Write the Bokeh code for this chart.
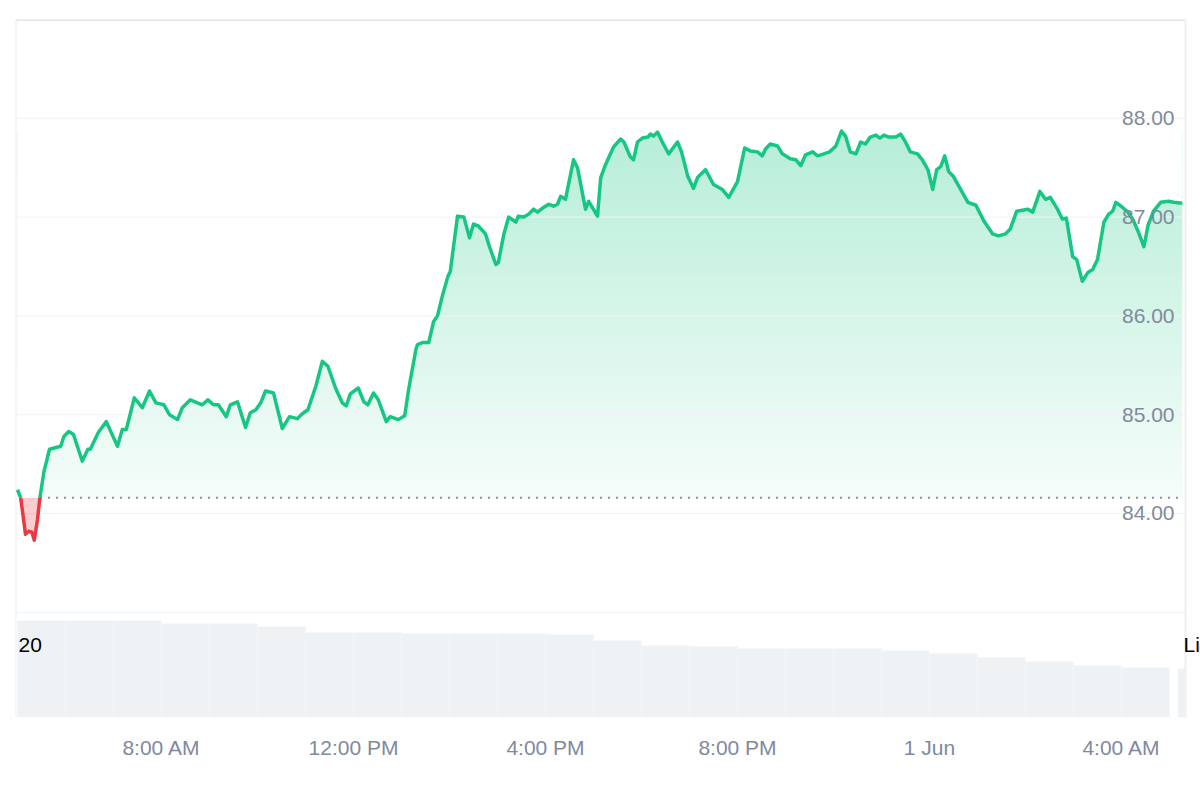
import numpy as np
from bokeh.plotting import figure
from bokeh.models import Range1d, FixedTicker, Label
from bokeh.core.properties import value
from bokeh.embed import file_html
from bokeh.resources import INLINE

# minutes after 05:00, 31 May
minutes = [0, 4, 10, 14, 18, 21, 25, 28, 33, 40, 54, 58, 64, 70, 81, 88, 91, 101, 111, 125,
           131, 136, 146, 156, 165, 173, 183, 190, 200, 206, 216, 231, 238, 245, 251, 261, 266, 275, 285, 291,
           298, 304, 310, 320, 331, 340, 350, 356, 363, 373, 381, 388, 398, 406, 411, 416, 426, 433, 438, 445,
           451, 461, 466, 476, 484, 489, 498, 500, 506, 514, 520, 525, 531, 538, 541, 550, 558, 565, 570, 576,
           585, 590, 598, 601, 608, 614, 623, 626, 633, 639, 645, 650, 658, 664, 670, 675, 679, 685, 695, 700,
           710, 714, 725, 729, 735, 745, 754, 758, 766, 770, 775, 781, 788, 791, 795, 800, 806, 814, 825, 830,
           838, 845, 850, 860, 870, 881, 889, 900, 909, 916, 925, 931, 935, 941, 950, 956, 966, 973, 979, 985,
           994, 1000, 1008, 1015, 1023, 1030, 1035, 1041, 1048, 1054, 1060, 1066, 1073, 1078, 1083, 1089, 1098, 1104, 1110, 1116,
           1125, 1131, 1138, 1144, 1149, 1154, 1159, 1164, 1170, 1181, 1188, 1198, 1208, 1219, 1226, 1235, 1241, 1249, 1263, 1269,
           1278, 1285, 1291, 1300, 1306, 1311, 1319, 1324, 1331, 1338, 1344, 1350, 1358, 1364, 1369, 1373, 1381, 1388, 1394, 1401,
           1408, 1413, 1420, 1429, 1439, 1445, 1456]
prices = [84.24, 84.16, 83.79, 83.82, 83.81, 83.73, 83.94, 84.16, 84.42, 84.65, 84.68, 84.78, 84.83, 84.80, 84.53, 84.65, 84.65, 84.82, 84.93, 84.68,
          84.85, 84.85, 85.17, 85.07, 85.24, 85.12, 85.10, 85.00, 84.95, 85.07, 85.15, 85.10, 85.15, 85.10, 85.10, 84.98, 85.10, 85.13, 84.87, 85.02,
          85.05, 85.12, 85.24, 85.22, 84.86, 84.98, 84.96, 85.01, 85.05, 85.29, 85.54, 85.49, 85.26, 85.12, 85.09, 85.21, 85.27, 85.13, 85.10, 85.22,
          85.15, 84.93, 84.98, 84.95, 84.99, 85.26, 85.66, 85.71, 85.73, 85.73, 85.94, 86.00, 86.20, 86.40, 86.45, 87.01, 87.00, 86.79, 86.93, 86.91,
          86.83, 86.70, 86.52, 86.54, 86.83, 87.00, 86.95, 87.01, 87.00, 87.03, 87.08, 87.05, 87.10, 87.13, 87.11, 87.13, 87.21, 87.18, 87.58, 87.50,
          87.08, 87.16, 87.01, 87.40, 87.53, 87.71, 87.79, 87.76, 87.61, 87.58, 87.76, 87.80, 87.81, 87.84, 87.82, 87.86, 87.76, 87.64, 87.76, 87.66,
          87.41, 87.29, 87.40, 87.48, 87.33, 87.28, 87.20, 87.36, 87.70, 87.67, 87.66, 87.62, 87.69, 87.74, 87.72, 87.64, 87.59, 87.58, 87.52, 87.63,
          87.66, 87.62, 87.64, 87.66, 87.72, 87.87, 87.82, 87.66, 87.64, 87.76, 87.74, 87.81, 87.83, 87.80, 87.83, 87.81, 87.81, 87.84, 87.76, 87.66,
          87.64, 87.58, 87.48, 87.28, 87.48, 87.51, 87.62, 87.46, 87.41, 87.25, 87.15, 87.12, 86.96, 86.83, 86.81, 86.83, 86.88, 87.06, 87.08, 87.05,
          87.26, 87.18, 87.20, 87.08, 86.98, 86.99, 86.60, 86.57, 86.35, 86.44, 86.47, 86.57, 86.95, 87.03, 87.06, 87.15, 87.10, 87.05, 86.98, 86.85,
          86.70, 86.91, 87.06, 87.15, 87.16, 87.15, 87.14]
reference_price = 84.16

# volume bars (bar centre in minutes after 05:00) - relative volume
vol_minutes = [30, 90, 150, 210, 270, 330, 390, 450, 510, 570, 630, 690, 750, 810, 870, 930,
               990, 1050, 1110, 1170, 1230, 1290, 1350, 1410, 1455]
volumes = [97, 97, 97, 94, 94, 91, 85, 85, 84, 84, 84, 83, 77, 72, 71, 69,
           69, 69, 67, 64, 60, 56, 52, 50, 49]

price_ticks = [84, 85, 86, 87, 88]
grid_levels = [83, 84, 85, 86, 87, 88]
time_ticks = [180, 420, 660, 900, 1140, 1380]
time_labels = ["8:00 AM", "12:00 PM", "4:00 PM", "8:00 PM", "1 Jun", "4:00 AM"]

GREEN = "#16c784"
RED = "#ea3943"
GREY_TXT = "#808a9d"
FONT = "Liberation Sans"
BORDER = "#eef0f3"

X0, X1 = -2.5, 1460          # chart panel edges (minutes)
XF = X1 + 15 / 0.8           # frame extends 15px beyond the panel for the cut-off text
Y0, Y1 = 81.935, 89.0
VOL_SPAN = 698

p = figure(width=1200, height=780, output_backend="svg", toolbar_location=None,
           x_range=Range1d(X0, XF), y_range=Range1d(Y0, Y1), y_axis_location=None,
           min_border_left=15, min_border_right=0, min_border_top=19, min_border_bottom=63,
           background_fill_color="white", border_fill_color="white")
p.xgrid.visible = False
p.ygrid.visible = False
p.outline_line_color = None

# volume on its own range
p.extra_y_ranges = {"vol": Range1d(0, VOL_SPAN)}
vol_widths = [60] * (len(vol_minutes) - 1) + [9]
p.vbar(x=vol_minutes, top=volumes, width=vol_widths, bottom=0, y_range_name="vol",
       fill_color="#eff2f5", line_color=None)

base = reference_price
xs, ys = [], []
for i in range(len(minutes)):
    if i > 0:
        p0, p1 = prices[i - 1], prices[i]
        if (p0 - base) * (p1 - base) < 0:
            f = (base - p0) / (p1 - p0)
            xs.append(minutes[i - 1] + f * (minutes[i] - minutes[i - 1]))
            ys.append(base)
    xs.append(minutes[i])
    ys.append(prices[i])
xs = np.array(xs, dtype=float)
ys = np.array(ys, dtype=float)

# gradient fill (image) masked above the line
top = max(prices)
n = 256
a = np.linspace(0.04, 0.31, n)
img = np.zeros((n, 2), dtype=np.uint32)
view = img.view(dtype=np.uint8).reshape((n, 2, 4))
for j in range(2):
    view[:, j, 0] = np.round(255 - a * (255 - 22)).astype(np.uint8)
    view[:, j, 1] = np.round(255 - a * (255 - 199)).astype(np.uint8)
    view[:, j, 2] = np.round(255 - a * (255 - 132)).astype(np.uint8)
    view[:, j, 3] = 255
p.image_rgba(image=[img], x=xs[0], y=base, dw=xs[-1] - xs[0], dh=top - base)
p.varea(x=xs, y1=np.maximum(ys, base), y2=Y1, fill_color="white")

# grid lines and panel borders
p.segment(x0=X0, x1=X1, y0=grid_levels, y1=grid_levels, line_color="#eff2f5", line_width=1)
p.segment(x0=[X0], x1=[X1], y0=[Y1], y1=[Y1], line_color="#e2e4e8", line_width=3)
p.segment(x0=[X0, X1], x1=[X0, X1], y0=[Y0, Y0], y1=[Y1, Y1], line_color=BORDER, line_width=2)

# red fill below reference
p.varea(x=xs, y1=np.minimum(ys, base), y2=base, fill_color=RED, fill_alpha=0.25)

# dotted reference line
red_idx = np.where(ys <= base + 1e-9)[0]
dot_start = xs[red_idx.max()]
p.line(x=[dot_start, xs[-1]], y=[base, base], line_color="#858c99", line_width=2, line_dash="2 6")

green = np.where(ys >= base - 1e-9, ys, np.nan)
red = np.where(ys <= base + 1e-9, ys, np.nan)
p.line(x=xs, y=green, line_color=GREEN, line_width=3.5, line_join="round")
p.line(x=xs, y=red, line_color=RED, line_width=3.5, line_join="round")

# price labels inside the plot
for t in price_ticks:
    p.add_layout(Label(x=X1, y=t, x_offset=-11, text=f"{t:.2f}", text_align="right",
                       text_baseline="middle", text_color=GREY_TXT, text_font_size="21px",
                       text_font=FONT))

# partial texts in volume area (row at 73 px above the frame bottom)
TEXT_ROW = 73
p.add_layout(Label(x=X0, y=TEXT_ROW, y_range_name="vol", x_offset=3, text="20", text_align="left",
                   text_baseline="middle", text_color="#000000", text_font_size="21px", text_font=FONT))
p.add_layout(Label(x=X1, y=TEXT_ROW, y_range_name="vol", x_offset=-2, text="Li", text_align="left",
                   text_baseline="middle", text_color="#000000", text_font_size="21px", text_font=FONT))

ax = p.xaxis[0]
ax.ticker = FixedTicker(ticks=time_ticks)
ax.major_label_overrides = {t: l for t, l in zip(time_ticks, time_labels)}
ax.axis_line_color = None
ax.major_tick_line_color = None
ax.minor_tick_line_color = None
ax.major_label_text_font_size = "21px"
ax.major_label_text_color = GREY_TXT
ax.major_label_text_font = FONT
ax.major_label_standoff = 12

open("out.html", "w").write(file_html(p, INLINE))
